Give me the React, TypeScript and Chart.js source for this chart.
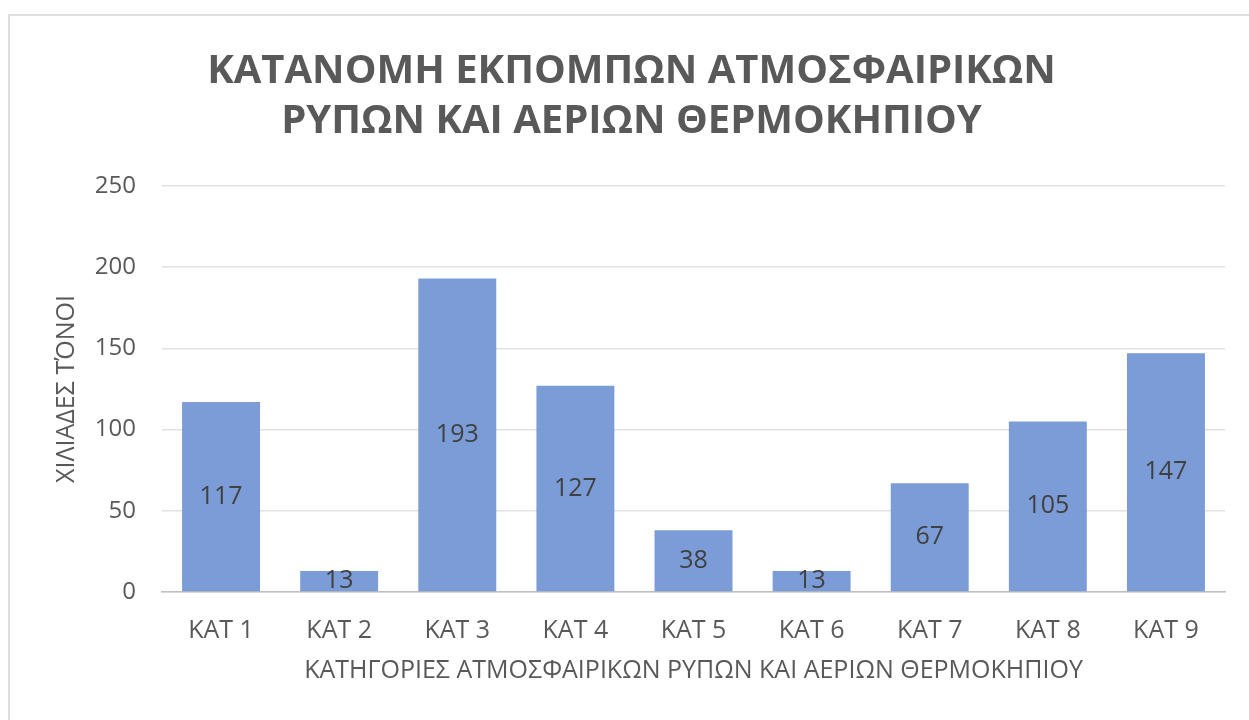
import React, { useEffect, useRef } from "react";
import { Chart, registerables } from "chart.js";

Chart.register(...registerables);

const categories = ["ΚΑΤ 1", "ΚΑΤ 2", "ΚΑΤ 3", "ΚΑΤ 4", "ΚΑΤ 5", "ΚΑΤ 6", "ΚΑΤ 7", "ΚΑΤ 8", "ΚΑΤ 9"];
const emissions = [117, 13, 193, 127, 38, 13, 67, 105, 147];
const titleLines = ["ΚΑΤΑΝΟΜΗ ΕΚΠΟΜΠΩΝ ΑΤΜΟΣΦΑΙΡΙΚΩΝ", "ΡΥΠΩΝ ΚΑΙ ΑΕΡΙΩΝ ΘΕΡΜΟΚΗΠΙΟΥ"];
const xAxisTitle = "ΚΑΤΗΓΟΡΙΕΣ ΑΤΜΟΣΦΑΙΡΙΚΩΝ ΡΥΠΩΝ ΚΑΙ ΑΕΡΙΩΝ ΘΕΡΜΟΚΗΠΙΟΥ";
const yAxisTitle = "ΧΙΛΙΑΔΕΣ ΤΌΝΟΙ";

const FONT = "'Open Sans', 'Noto Sans', sans-serif";

const framePlugin = {
  id: "frame",
  beforeDraw(chart: any) {
    const ctx = chart.ctx;
    ctx.save();
    ctx.fillStyle = "#ffffff";
    ctx.fillRect(0, 0, chart.width, chart.height);
    ctx.strokeStyle = "#dedede";
    ctx.lineWidth = 2;
    ctx.strokeRect(9, 15, chart.width + 40, chart.height + 40);
    ctx.restore();
  },
};

const barLabelPlugin = {
  id: "barLabels",
  afterDatasetsDraw(chart: any) {
    const ctx = chart.ctx;
    const meta = chart.getDatasetMeta(0);
    const data = chart.data.datasets[0].data;
    ctx.save();
    ctx.fillStyle = "#404040";
    ctx.font = `25px ${FONT}`;
    ctx.textAlign = "center";
    ctx.textBaseline = "middle";
    meta.data.forEach((bar: any, i: number) => {
      const y = (bar.y + bar.base) / 2;
      ctx.fillText(String(data[i]), bar.x, y);
    });
    ctx.restore();
  },
};

export default function App() {
  const ref = useRef<HTMLCanvasElement>(null);
  useEffect(() => {
    document.body.style.margin = "0";
    const chart = new Chart(ref.current as HTMLCanvasElement, {
      type: "bar",
      data: {
        labels: categories,
        datasets: [
          {
            data: emissions,
            backgroundColor: "rgba(116,151,212,0.95)",
            borderWidth: 0,
            categoryPercentage: 0.66,
            barPercentage: 1,
          },
        ],
      },
      options: {
        animation: false,
        responsive: false,
        layout: { padding: { left: 38, right: 24, top: 0, bottom: 0 } },
        plugins: {
          legend: { display: false },
          tooltip: { enabled: false },
          title: {
            display: true,
            text: titleLines,
            color: "#595959",
            font: { family: FONT, size: 40, weight: "bold", lineHeight: 1.25 },
            padding: { top: 47, bottom: 39 },
          },
        },
        scales: {
          x: {
            grid: { display: false, drawTicks: false },
            border: { display: true, color: "#bfbfbf", width: 1.5 },
            ticks: {
              color: "#595959",
              font: { family: FONT, size: 25, lineHeight: 1.2 },
              padding: 24,
            },
            title: {
              display: true,
              text: xAxisTitle,
              color: "#595959",
              font: { family: FONT, size: 25, lineHeight: 1.2 },
              padding: { top: 0, bottom: 34 },
            },
            afterFit(scale: any) {
              scale.height = 128;
            },
          },
          y: {
            min: 0,
            max: 250,
            ticks: {
              stepSize: 50,
              color: "#595959",
              font: { family: FONT, size: 24, lineHeight: 1.2 },
              padding: 26,
            },
            grid: { color: "#e2e2e2", lineWidth: 1.5, drawTicks: false },
            border: { display: false },
            title: {
              display: true,
              text: yAxisTitle,
              color: "#595959",
              font: { family: FONT, size: 25, lineHeight: 1.2 },
              padding: { top: 14, bottom: 0 },
            },
            afterFit(scale: any) {
              scale.width = 124;
            },
          },
        },
      },
      plugins: [framePlugin, barLabelPlugin],
    });
    return () => chart.destroy();
  }, []);
  return (
    <div style={{ width: 1249, height: 720 }}>
      <canvas ref={ref} width={1249} height={720} />
    </div>
  );
}
